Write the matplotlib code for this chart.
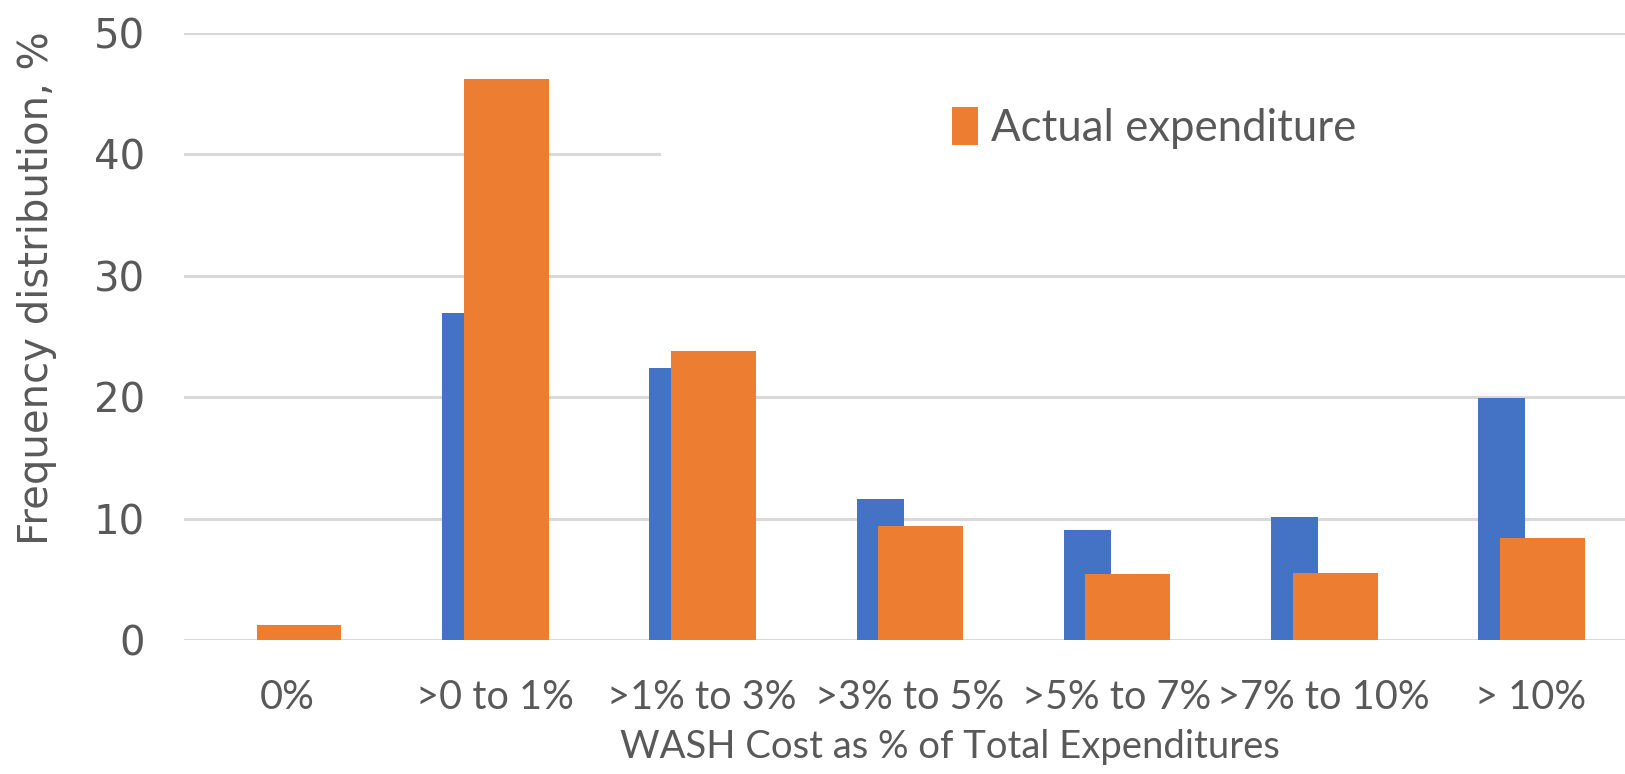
import numpy as np
import matplotlib
matplotlib.use("Agg")
import matplotlib.pyplot as plt
from matplotlib.patches import Patch, Rectangle

# ---- data ----
categories = ["0%", ">0 to 1%", ">1% to 3%", ">3% to 5%", ">5% to 7%", ">7% to 10%", "> 10%"]
blue_vals = [0.0, 26.9, 22.4, 11.6, 9.1, 10.1, 19.9]
actual_vals = [1.2, 46.2, 23.8, 9.4, 5.4, 5.5, 8.4]

BLUE = "#4472C4"
ORANGE = "#ED7D31"
GREY_TXT = "#595959"
GRID = "#D9D9D9"
NARROW = ["Lato", "DejaVu Sans"]

fig = plt.figure(figsize=(16.25, 7.74), dpi=100)
ax = fig.add_axes([184 / 1625, 1 - 640 / 774, 1450.6 / 1625, (640 - 33) / 774])

x = np.arange(len(categories))

# excel style overlapping bars: narrow blue behind, wide orange in front
ax.bar(x - 0.141, blue_vals, width=0.227, color=BLUE, zorder=2)
ax.bar(x + 0.055, actual_vals, width=0.41, color=ORANGE, zorder=3)

ax.set_ylim(0, 50)
ax.set_xlim(-0.5, len(categories) - 0.5)
ax.set_yticks([0, 10, 20, 30, 40, 50])
ax.yaxis.grid(True, color=GRID, linewidth=2.2, zorder=0)
ax.set_axisbelow(True)

# white area behind the legend hides part of the 40 gridline
ax.add_patch(Rectangle((0.329, 0.68), 0.7, 0.2, transform=ax.transAxes,
                       facecolor="white", edgecolor="none", zorder=1))

for s in ax.spines.values():
    s.set_visible(False)
ax.tick_params(axis="both", length=0, colors=GREY_TXT)
ax.tick_params(axis="y", labelsize=29, pad=28)
ax.tick_params(axis="x", labelsize=28.5, pad=28)
ax.set_xticks(x)
ax.set_xticklabels(categories, family=NARROW)

ax.set_xlabel("WASH Cost as % of Total Expenditures", fontsize=27.5, color=GREY_TXT,
              family=NARROW)
ax.xaxis.set_label_coords(0.528, -0.147)
ax.set_ylabel("Frequency distribution, %", fontsize=29, color=GREY_TXT)
ax.yaxis.set_label_coords(-0.0876, 0.58)

leg = ax.legend(handles=[Patch(facecolor=ORANGE, edgecolor="none", label="Actual expenditure")],
                loc="center left", bbox_to_anchor=(952 / 1625, 1 - 128 / 774),
                bbox_transform=fig.transFigure, frameon=False,
                prop={"family": NARROW, "size": 31.5},
                handlelength=0.6, handleheight=0.95, handletextpad=0.3,
                borderpad=0, borderaxespad=0)
for t in leg.get_texts():
    t.set_color(GREY_TXT)

fig.savefig("out.png", dpi=100)
